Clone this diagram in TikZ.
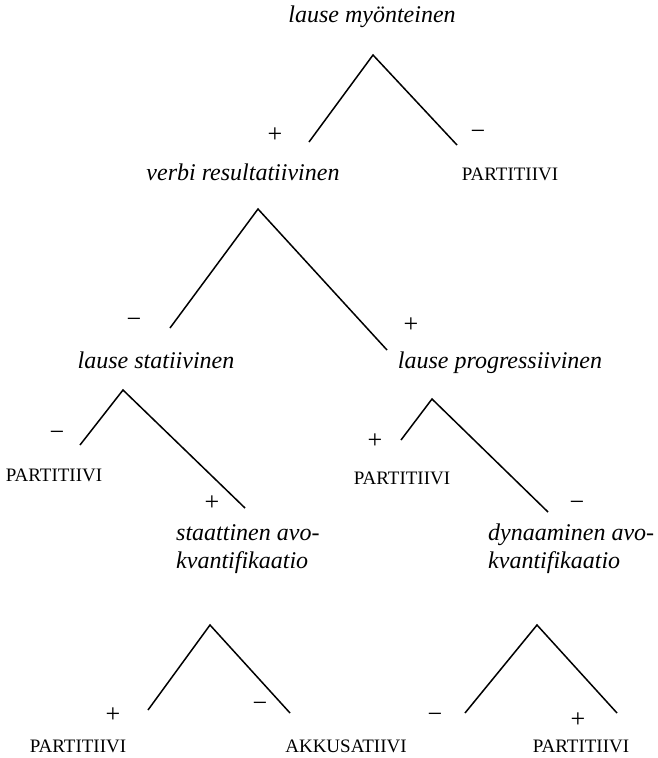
\documentclass[tikz,border=0pt]{standalone}
\usepackage{fontspec}
\setmainfont{Liberation Serif}
\usetikzlibrary{calc}

\tikzset{
  cat/.style={font=\fontsize{24}{28}\selectfont\itshape, inner sep=0pt},
  casus/.style={font=\fontsize{19}{19}\selectfont, inner sep=0pt},
  sgn/.style={font=\fontsize{26}{26}\selectfont, inner sep=0pt},
  branch/.style={line width=1.5pt}
}

\begin{document}
\begin{tikzpicture}[x=1pt,y=-1pt]
\useasboundingbox (0,0) rectangle (658,758);

\node[cat] (myont) at (372,17) {lause myönteinen};
\node[cat] (verbi) at (243,172) {verbi resultatiivinen};
\node[casus] (part1) at (510,174) {PARTITIIVI};
\node[cat] (stat) at (156,360) {lause statiivinen};
\node[cat] (progr) at (500,363) {lause progressiivinen};
\node[casus] (part2) at (54,475) {PARTITIIVI};
\node[casus] (part3) at (402,478) {PARTITIIVI};
\node[cat, anchor=west, align=left] (staat) at (176,549) {staattinen avo-\\kvantifikaatio};
\node[cat, anchor=west, align=left] (dyn) at (488,549) {dynaaminen avo-\\kvantifikaatio};
\node[casus] (part4) at (78,746) {PARTITIIVI};
\node[casus] (akk) at (346,746) {AKKUSATIIVI};
\node[casus] (part5) at (581,746) {PARTITIIVI};

% branching points and branch ends
\coordinate (a1) at (373,55);  \coordinate (l1) at (309,142); \coordinate (r1) at (457,145);
\coordinate (a2) at (258,209); \coordinate (l2) at (170,328); \coordinate (r2) at (387,350);
\coordinate (a3) at (123,390); \coordinate (l3) at (80,445);  \coordinate (r3) at (245,508);
\coordinate (a4) at (432,399); \coordinate (l4) at (401,440); \coordinate (r4) at (548,512);
\coordinate (a5) at (210,625); \coordinate (l5) at (148,710); \coordinate (r5) at (290,713);
\coordinate (a6) at (537,625); \coordinate (l6) at (465,713); \coordinate (r6) at (617,713);

\foreach \i in {1,...,6}
  \draw[branch] (l\i) -- (a\i) -- (r\i);

\node[sgn] (s1l) at (275,135) {+};
\node[sgn] (s1r) at (478,135) {−};
\node[sgn] (s2l) at (134,323) {−};
\node[sgn] (s2r) at (411,325) {+};
\node[sgn] (s3l) at (57,436) {−};
\node[sgn] (s3r) at (212,503) {+};
\node[sgn] (s4l) at (375,441) {+};
\node[sgn] (s4r) at (577,506) {−};
\node[sgn] (s5l) at (113,715) {+};
\node[sgn] (s5r) at (260,707) {−};
\node[sgn] (s6l) at (435,718) {−};
\node[sgn] (s6r) at (578,720) {+};

\end{tikzpicture}
\end{document}
